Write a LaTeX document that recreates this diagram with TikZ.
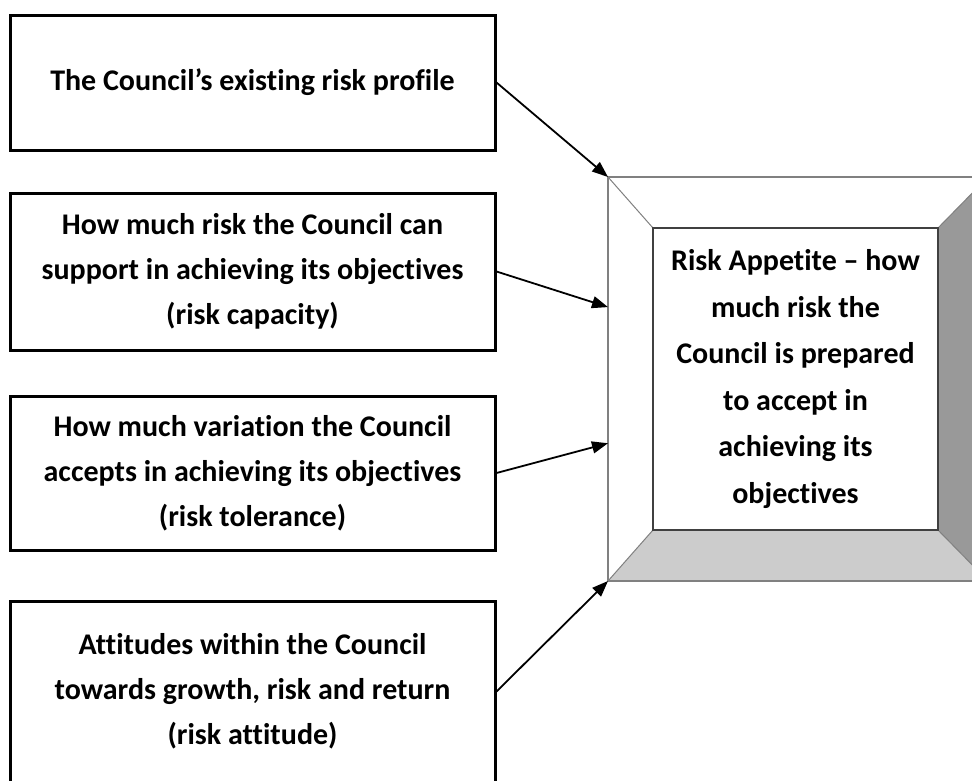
\documentclass[tikz,border=0pt]{standalone}
\usepackage{fontspec}
\setmainfont{Carlito}[Ligatures=NoCommon]
\usetikzlibrary{arrows.meta,calc}
\definecolor{bevdark}{HTML}{999999}
\definecolor{bevlight}{HTML}{CCCCCC}
\definecolor{bevline}{HTML}{808080}
\definecolor{innerline}{HTML}{404040}
\begin{document}
\begin{tikzpicture}[x=1pt,y=-1pt,
  src/.style={draw=black, line width=3pt, fill=white, align=center, inner sep=0pt,
    minimum width=485pt, font=\bfseries\fontsize{30}{45}\selectfont},
  arr/.style={line width=1.8pt, -{Triangle[length=16pt,width=12pt]}},
  bevel/.style={draw=bevline, line width=1pt}
]
\useasboundingbox (0,0) rectangle (972,780);
% source boxes
\node[src, minimum height=135pt] (b1) at (252.5,82.5) {The Council’s existing risk profile};
\node[src, minimum height=157pt] (b2) at (252.5,271.5) {How much risk the Council can\\support in achieving its objectives\\(risk capacity)};
\node[src, minimum height=154pt] (b3) at (252.5,473) {How much variation the Council\\accepts in achieving its objectives\\(risk tolerance)};
\node[src, minimum height=181pt] (b4) at (252.5,691.5) {Attitudes within the Council\\towards growth, risk and return\\(risk attitude)};
% bevel box
\path node[minimum width=380pt, minimum height=404pt, inner sep=0pt, outer sep=0pt] (outer) at (798,379) {};
\path node[minimum width=285pt, minimum height=302pt, inner sep=0pt, outer sep=0pt] (innerbox) at (795.5,379) {};
\fill[bevdark] (outer.north east) -- (innerbox.north east) -- (innerbox.south east) -- (outer.south east) -- cycle;
\fill[bevlight] (outer.south west) -- (innerbox.south west) -- (innerbox.south east) -- (outer.south east) -- cycle;
\draw[bevel] (outer.north west) -- (innerbox.north west);
\draw[bevel] (outer.north east) -- (innerbox.north east);
\draw[bevel] (outer.south west) -- (innerbox.south west);
\draw[bevel] (outer.south east) -- (innerbox.south east);
\draw[draw=bevline, line width=2.2pt] (outer.north west) rectangle (outer.south east);
\draw[draw=innerline, line width=2pt, fill=white] (innerbox.north west) rectangle (innerbox.south east);
\node[align=center, font=\bfseries\fontsize{30}{46.5}\selectfont] (app) at (innerbox.center) {Risk Appetite – how\\much risk the\\Council is prepared\\to accept in\\achieving its\\objectives};
% arrow targets
\coordinate (t2) at ($(outer.north west)!0.322!(outer.south west)$);
\coordinate (t3) at ($(outer.north west)!0.659!(outer.south west)$);
% arrows
\draw[arr] (b1.east) -- (outer.north west);
\draw[arr] (b2.east) -- (t2);
\draw[arr] (b3.east) -- (t3);
\draw[arr] (b4.east) -- (outer.south west);
\end{tikzpicture}
\end{document}
